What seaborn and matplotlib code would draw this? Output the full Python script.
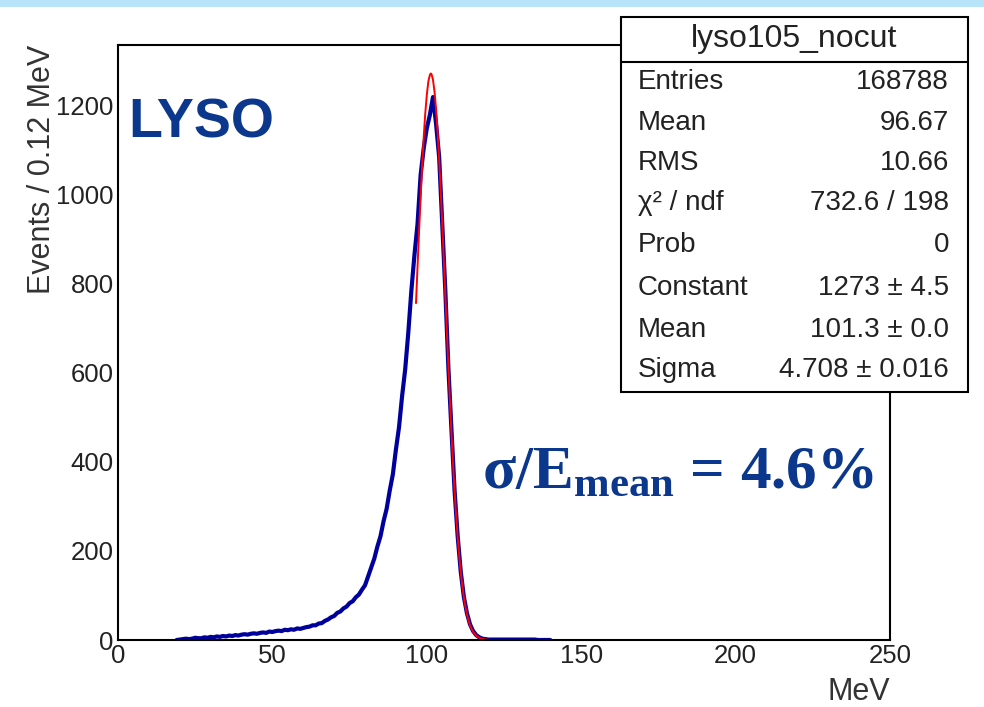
import numpy as np
import pandas as pd
import matplotlib
matplotlib.use("Agg")
import matplotlib.pyplot as plt
import seaborn as sns
from matplotlib import font_manager
from matplotlib.ticker import MultipleLocator, FixedLocator, FixedFormatter
from matplotlib.patches import Rectangle
from matplotlib.lines import Line2D

# ---------------- data ----------------
# histogram bin centres (MeV) and counts (Events / 0.12 MeV)
hist_mev = list(range(19, 141))
hist_counts = [
    0,                                               # 19
    1, 2, 3, 2, 3, 5, 4, 4, 6, 5,                    # 20-29
    7, 6, 8, 7, 9, 8, 10, 9, 11, 10,                 # 30-39
    12, 13, 12, 14, 15, 14, 16, 17, 16, 19,          # 40-49
    18, 20, 21, 20, 23, 22, 24, 23, 26, 25,          # 50-59
    27, 29, 30, 33, 33, 37, 38, 43, 46, 51,          # 60-69
    54, 61, 64, 71, 75, 83, 87, 96, 102, 113,        # 70-79
    123, 143, 163, 183, 210, 233, 267, 295, 336, 372,  # 80-89
    428, 478, 548, 608, 690, 785, 865, 935, 1045, 1105,  # 90-99
    1150, 1180, 1220, 1160, 1085, 935, 785, 610, 470, 335,  # 100-109
    233, 153, 97, 60, 35, 20, 11, 6, 3, 2,           # 110-119
    1, 1, 1, 1, 1, 1, 1, 1, 1, 1,                    # 120-129
    1, 1, 1, 1, 1, 1, 0, 0, 0, 0, 0,                 # 130-140
]

# gaussian fit curve
fit_mev = [96.5, 97, 97.5, 98, 98.5, 99, 99.5, 100, 100.5, 101, 101.3, 101.5,
           102, 102.5, 103, 103.5, 104, 104.5, 105, 105.5, 106, 106.5, 107,
           107.5, 108, 108.5, 109, 109.5, 110, 110.5, 111, 111.5, 112, 112.5,
           113, 113.5, 114, 114.5, 115, 116, 117, 118, 119, 120]
fit_counts = [757, 839, 919, 996, 1067, 1130, 1183, 1225, 1255, 1270, 1273, 1272,
              1259, 1232, 1193, 1141, 1080, 1010, 935, 855, 773, 692, 612,
              535, 462, 395, 334, 279, 231, 189, 152, 122, 96, 75,
              58, 44, 33, 25, 18.5, 9.7, 4.9, 2.4, 1.1, 0.5]

x_ticks = [0, 50, 100, 150, 200, 250]
x_tick_labels = ["0", "50", "100", "150", "200", "250"]
y_ticks = [0, 200, 400, 600, 800, 1000, 1200]
y_tick_labels = ["0", "200", "400", "600", "800", "1000", "1200"]

stats_title = "lyso105_nocut"
stats_names = ["Entries", "Mean", "RMS", "\u03c7\u00b2 / ndf", "Prob",
               "Constant", "Mean", "Sigma"]
stats_values = ["168788", "96.67", "10.66", "732.6 / 198", "0",
                "1273 \u00b1 4.5", "101.3 \u00b1 0.0", "4.708 \u00b1 0.016"]

# ---------------- style ----------------
sns.set_style("white")
names = {f.name for f in font_manager.fontManager.ttflist}
narrow = "Liberation Sans Narrow" if "Liberation Sans Narrow" in names else "Liberation Sans"
plt.rcParams["font.family"] = [narrow, "DejaVu Sans"]
plt.rcParams["mathtext.fontset"] = "custom"
plt.rcParams["mathtext.rm"] = "Liberation Serif:bold"
plt.rcParams["mathtext.bf"] = "Liberation Serif:bold"
plt.rcParams["mathtext.it"] = "Liberation Serif:bold"

W, H = 984, 707
fig = plt.figure(figsize=(W / 100, H / 100), dpi=100)
fig.patch.set_facecolor("white")

def fx(px):
    return px / W

def fy(py):
    return 1 - py / H

ax_l, ax_r, ax_t, ax_b = 118, 890, 45, 640
ax = fig.add_axes([fx(ax_l), fy(ax_b), (ax_r - ax_l) / W, (ax_b - ax_t) / H])

navy = "#00009c"
df_hist = pd.DataFrame({"MeV": hist_mev, "Events": hist_counts})
df_fit = pd.DataFrame({"MeV": fit_mev, "Events": fit_counts})

sns.lineplot(data=df_hist, x="MeV", y="Events", color=navy, linewidth=3.0, ax=ax,
             estimator=None, sort=True)
sns.lineplot(data=df_fit, x="MeV", y="Events", color="#ff0000", linewidth=1.4, ax=ax,
             estimator=None, sort=True)

ax.set_xlim(0, 250)
ax.set_ylim(0, 1337)
ax.set_xlabel("")
ax.set_ylabel("")

ax.xaxis.set_major_locator(FixedLocator(x_ticks))
ax.xaxis.set_major_formatter(FixedFormatter(x_tick_labels))
ax.yaxis.set_major_locator(FixedLocator(y_ticks))
ax.yaxis.set_major_formatter(FixedFormatter(y_tick_labels))
ax.xaxis.set_minor_locator(MultipleLocator(10))
ax.yaxis.set_minor_locator(MultipleLocator(50))

ax.tick_params(axis="x", which="major", direction="in", length=14.4, width=1.1,
               labelsize=18.5, pad=3, colors="black", labelcolor="#222222")
ax.tick_params(axis="x", which="minor", direction="in", length=6.7, width=1.1)
ax.tick_params(axis="y", which="major", direction="in", length=16.5, width=1.1,
               labelsize=18.5, pad=3, labelcolor="#222222")
ax.tick_params(axis="y", which="minor", direction="in", length=10, width=1.1)
ax.tick_params(top=False, right=False, which="both")
for s in ax.spines.values():
    s.set_visible(True)
    s.set_color("black")
    s.set_linewidth(1.5)

# axis titles
fig.text(fx(42), fy(45), "Events / 0.12 MeV", rotation=90, ha="center", va="top",
         fontsize=22, color="#333333")
fig.text(fx(890), fy(692), "MeV", ha="right", va="center", fontsize=22, color="#333333")

# annotations
dark_blue = "#0b378c"
fig.text(fx(128), fy(123), "LYSO", ha="left", va="center", fontsize=40,
         fontweight="bold", family="Liberation Sans", color=dark_blue)
fig.text(fx(482), fy(488), "\u03c3/E$_{\\mathbf{mean}}$ = 4.6%", ha="left", va="baseline",
         fontsize=44, fontweight="bold", family="Liberation Serif", color=dark_blue)

# top slide band
fig.add_artist(Rectangle((0, fy(7)), 1, 7 / H, transform=fig.transFigure,
                         facecolor="#b8e4fa", edgecolor="none", zorder=1))

# stats box
bx0, by0, bx1, by1 = 621, 17, 968, 392
fig.add_artist(Rectangle((fx(bx0), fy(by1)), (bx1 - bx0) / W, (by1 - by0) / H,
                         transform=fig.transFigure, facecolor="white",
                         edgecolor="black", linewidth=1.5, zorder=10))
fig.add_artist(Line2D([fx(bx0), fx(bx1)], [fy(62), fy(62)], transform=fig.transFigure,
                      color="black", linewidth=1.5, zorder=11))
fig.text(fx((bx0 + bx1) / 2), fy(39), stats_title, ha="center", va="center",
         fontsize=23, color="#222222", zorder=12)
row_y = [82, 123, 163, 203, 245, 288, 330, 370]
for yy, nm, val in zip(row_y, stats_names, stats_values):
    fig.text(fx(638), fy(yy), nm, ha="left", va="center", fontsize=20,
             color="#222222", zorder=12)
    fig.text(fx(949), fy(yy), val, ha="right", va="center", fontsize=20,
             color="#222222", zorder=12)

fig.savefig("out.png", dpi=100)
